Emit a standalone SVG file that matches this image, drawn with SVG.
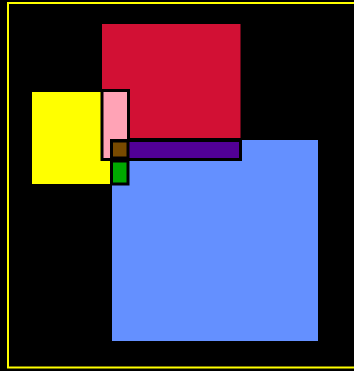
<svg xmlns="http://www.w3.org/2000/svg" width="354" height="371" viewBox="0 0 354 371">
<style>
.edge{stroke:#000;stroke-width:3}
</style>
<rect x="0" y="0" width="354" height="371" fill="#000"/>
<g id="frame"><rect x="8" y="3" width="352" height="364.5" fill="none" stroke="#ffff00" stroke-width="2"/></g>
<g id="red"><rect x="102" y="24" width="138.5" height="114" fill="#d21034"/></g>
<g id="blue"><rect x="112" y="140" width="206" height="201" fill="#6490ff"/></g>
<g id="yellow"><rect x="32" y="92" width="78" height="92" fill="#ffff00"/></g>
<g id="pink"><rect class="edge" x="102" y="90.5" width="26.5" height="69" fill="#ffa3b6"/></g>
<g id="purple"><rect class="edge" x="111.5" y="140.5" width="129" height="19" fill="#520096"/></g>
<g id="brown"><rect class="edge" x="111.5" y="141" width="16.5" height="17" fill="#784a00"/></g>
<g id="green"><rect class="edge" x="111.5" y="161" width="16.5" height="23" fill="#00aa00"/></g>
<g id="connectors"></g>
</svg>
